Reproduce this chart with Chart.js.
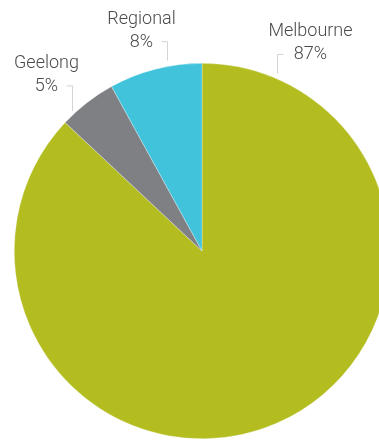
<!DOCTYPE html>
<html>
<head>
<meta charset="utf-8">
<script src="https://cdn.jsdelivr.net/npm/chart.js@4"></script>
<style>
  html, body { margin: 0; padding: 0; background: #fff; overflow: hidden; }
  #wrap { width: 379px; height: 440px; overflow: hidden; position: relative; }
  #wrap canvas { position: absolute; left: 0; top: 0; }
</style>
</head>
<body>
<div id="wrap"><canvas id="pie" width="404" height="440"></canvas></div>
<script>
var labels = ['Melbourne', 'Geelong', 'Regional'];
var shares = [87, 5, 8];
var colors = ['#b3bd1f', '#7f8084', '#42c3dc'];

// where each leader line meets the pie (degrees clockwise from 12 o'clock)
var leaderAngles = [23.6, -43.7, -10.7];

var calloutPlugin = {
    id: 'callouts',
    afterDraw: function (chart) {
        var arc = chart.getDatasetMeta(0).data[0];
        var cx = arc.x, cy = arc.y, r = arc.outerRadius;
        var ctx = chart.ctx;
        ctx.save();
        ctx.font = '300 18px Roboto, "Liberation Sans", sans-serif';
        ctx.textAlign = 'center';
        ctx.textBaseline = 'alphabetic';
        labels.forEach(function (name, i) {
            var a = leaderAngles[i] * Math.PI / 180;
            var x = Math.round(cx + Math.sin(a) * r) + 0.5;
            var yEnd = cy - Math.cos(a) * (r + 6);
            var yTop = yEnd - (i === 1 ? 25 : 19);
            ctx.strokeStyle = '#d4d4d4';
            ctx.lineWidth = 1;
            ctx.beginPath();
            ctx.moveTo(x, yEnd);
            ctx.lineTo(x, yTop);
            ctx.lineTo(x + (i === 0 ? 6 : -6), yTop);
            ctx.stroke();
            var tx = i === 0 ? x + 33 : x - 26;
            ctx.fillStyle = '#4a4a4a';
            ctx.fillText(name, tx, yTop - 18);
            ctx.fillText(shares[i] + '%', tx, yTop + 5);
        });
        ctx.restore();
    }
};

new Chart(document.getElementById('pie').getContext('2d'), {
    type: 'pie',
    data: {
        labels: labels,
        datasets: [{
            data: shares,
            backgroundColor: colors,
            borderColor: 'rgba(255,255,255,0.6)',
            borderWidth: 0.5
        }]
    },
    options: {
        responsive: false,
        animation: false,
        layout: { padding: { top: 63, bottom: 1 } },
        plugins: {
            legend: { display: false },
            tooltip: { enabled: false }
        }
    },
    plugins: [calloutPlugin]
});
</script>
</body>
</html>
